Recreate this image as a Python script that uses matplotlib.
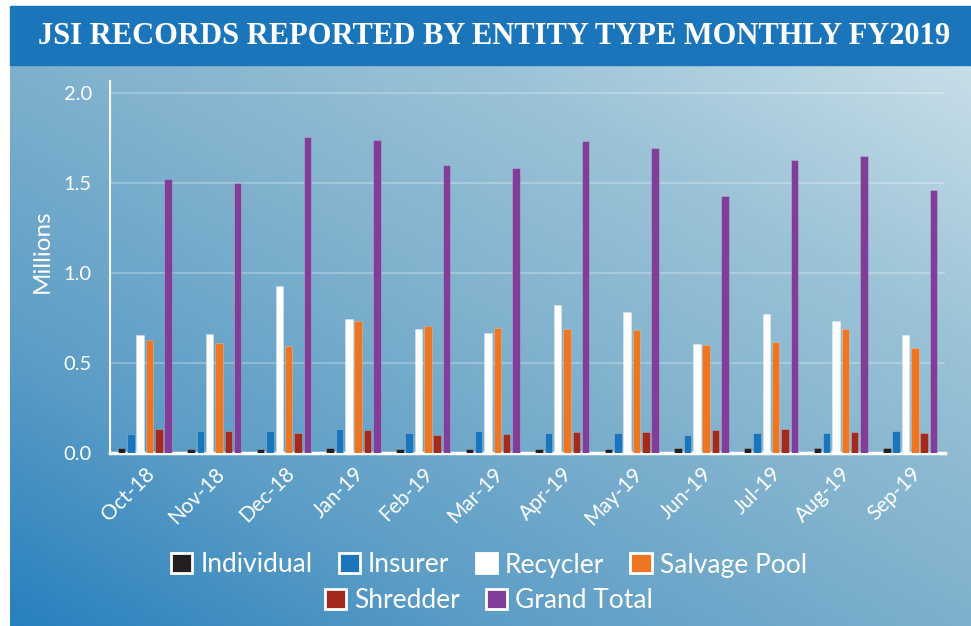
import numpy as np
import matplotlib
matplotlib.use('Agg')
import matplotlib.pyplot as plt
from matplotlib.patches import Patch, Rectangle

# data (millions of records)
months = ['Oct-18', 'Nov-18', 'Dec-18', 'Jan-19', 'Feb-19', 'Mar-19',
          'Apr-19', 'May-19', 'Jun-19', 'Jul-19', 'Aug-19', 'Sep-19']
individual = [0.023, 0.022, 0.022, 0.023, 0.022, 0.022, 0.022, 0.022, 0.023, 0.024, 0.023, 0.023]
insurer = [0.104, 0.117, 0.120, 0.131, 0.106, 0.120, 0.108, 0.111, 0.098, 0.107, 0.110, 0.118]
recycler = [0.654, 0.658, 0.928, 0.745, 0.686, 0.665, 0.819, 0.780, 0.602, 0.772, 0.733, 0.652]
salvage_pool = [0.624, 0.609, 0.593, 0.733, 0.706, 0.692, 0.689, 0.683, 0.600, 0.617, 0.689, 0.583]
shredder = [0.130, 0.117, 0.109, 0.126, 0.098, 0.103, 0.113, 0.113, 0.124, 0.130, 0.115, 0.108]
grand_total = [1.520, 1.500, 1.754, 1.737, 1.598, 1.581, 1.732, 1.693, 1.426, 1.628, 1.647, 1.460]

series = [
    ('Individual', individual, '#231f20'),
    ('Insurer', insurer, '#1b75bb'),
    ('Recycler', recycler, '#ffffff'),
    ('Salvage Pool', salvage_pool, '#ee7623'),
    ('Shredder', shredder, '#a52a1e'),
    ('Grand Total', grand_total, '#7f3f98'),
]

W, H = 971, 626
fig = plt.figure(figsize=(W / 100, H / 100), dpi=100)
fig.patch.set_facecolor('white')

# diagonal gradient background
stops_t = [0.0, 0.25, 0.5, 0.75, 1.0]
stops_c = np.array([(40, 128, 190), (92, 157, 198), (126, 176, 205),
                    (155, 195, 215), (200, 222, 232)]) / 255.0
gx, gy = np.meshgrid(np.linspace(0, 1, 400), np.linspace(0, 1, 250))
t = (gx + gy) / 2
grad = np.dstack([np.interp(t, stops_t, stops_c[:, k]) for k in range(3)])
bg = fig.add_axes([10 / W, 0, 1 - 10 / W, 1 - 65 / H])
bg.imshow(grad, aspect='auto', extent=[0, 1, 0, 1], origin='lower')
bg.axis('off')

# title banner
fig.add_artist(Rectangle((10 / W, 1 - 65 / H), 1 - 10 / W, 59 / H,
                         transform=fig.transFigure, color='#1b75bb', zorder=1))
fig.text(494 / W, 1 - 36 / H, 'JSI RECORDS REPORTED BY ENTITY TYPE MONTHLY FY2019',
         ha='center', va='center', color='white', fontsize=22,
         family='Liberation Serif', weight='bold', zorder=2)

ax = fig.add_axes([110 / W, 1 - 452.5 / H, 835 / W, 371.5 / H])
ax.patch.set_visible(False)

x = np.arange(len(months))
step = 0.134
width = 0.108
for i, (name, vals, col) in enumerate(series):
    ax.bar(x + (i - 2.5) * step, vals, width, color=col, label=name,
           edgecolor=(1, 1, 1, 0.25), linewidth=0.6, zorder=3)

ax.set_xlim(-0.5, len(months) - 0.5)
ax.set_ylim(0, 2.066)
ax.set_yticks([0.0, 0.5, 1.0, 1.5, 2.0])
ax.set_yticklabels(['0.0', '0.5', '1.0', '1.5', '2.0'])
ax.set_xticks(x)
ax.set_xticklabels(months, rotation=45, ha='right', rotation_mode='anchor')
ax.tick_params(length=0, colors='white')
ax.tick_params(axis='y', pad=13, labelsize=14.5)
ax.tick_params(axis='x', pad=8, labelsize=15)
for lab in ax.get_xticklabels() + ax.get_yticklabels():
    lab.set_family('Lato')

ax.grid(axis='y', color='white', alpha=0.3, linewidth=1.2, zorder=0)
for s in ['top', 'right']:
    ax.spines[s].set_visible(False)
ax.spines['left'].set_color('white')
ax.spines['left'].set_linewidth(1.5)
ax.spines['bottom'].set_color('white')
ax.spines['bottom'].set_linewidth(2.5)

ax.set_ylabel('Millions', color='white', fontsize=17.5, family='Lato')
ax.yaxis.set_label_coords(-0.068, 0.541)

# legend in two centred rows
handles = [Patch(facecolor=c, edgecolor='white', linewidth=2, label=n) for n, v, c in series]
leg_kw = dict(frameon=False, labelcolor='white', handlelength=0.8, handleheight=0.8,
              handletextpad=0.3, columnspacing=1.0, loc='center',
              prop={'family': 'Lato', 'size': 19})
fig.legend(handles=handles[:4], ncol=4, bbox_to_anchor=(489 / W, 1 - 565 / H), **leg_kw)
fig.legend(handles=handles[4:], ncol=2, bbox_to_anchor=(489 / W, 1 - 601 / H), **leg_kw)

fig.savefig('out.png', dpi=100)
